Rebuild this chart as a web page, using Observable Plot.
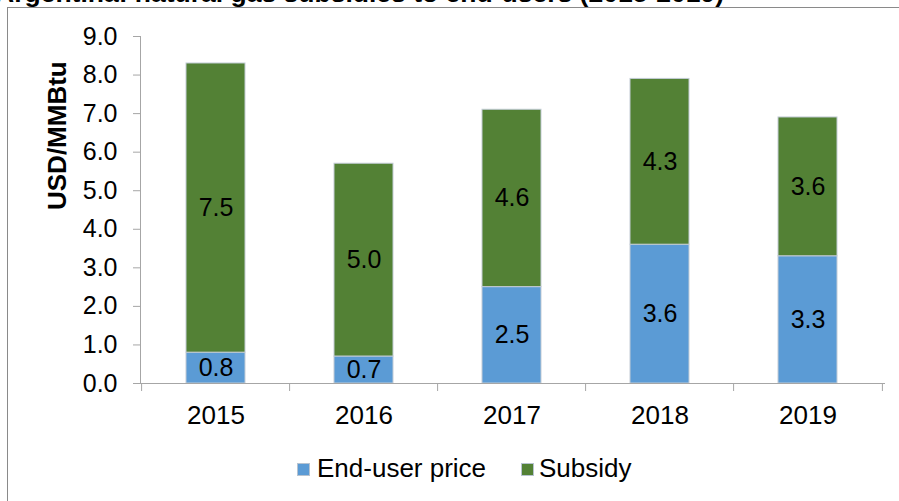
<!DOCTYPE html>
<html>
<head>
<meta charset="utf-8">
<script src="https://cdn.jsdelivr.net/npm/d3@7"></script>
<script src="https://cdn.jsdelivr.net/npm/@observablehq/plot@0.6"></script>
<style>
  html, body { margin: 0; padding: 0; background: #fff; }
  #wrap { position: relative; width: 899px; height: 501px; overflow: hidden; font-family: "Liberation Sans", Arial, sans-serif; }
  #frame { position: absolute; left: 7px; top: 7px; width: 900px; height: 500px; border-left: 1px solid #8a8a8a; border-top: 1px solid #8a8a8a; box-sizing: border-box; }
  #title { position: absolute; left: -5px; top: -20px; font-weight: bold; font-size: 26.5px; line-height: 26px; white-space: nowrap; color: #000; }
  #chart { position: absolute; left: 0; top: 0; }
  .lg-sw { position: absolute; width: 13px; height: 13px; box-sizing: border-box; }
  .lg-tx { position: absolute; font-size: 26px; line-height: 26px; color: #000; white-space: nowrap; }
</style>
</head>
<body>
<div id="wrap">
  <div id="frame"></div>
  <div id="title"></div>
  <div id="chart"></div>
  <div id="legend"></div>
</div>
<script>
const titleText = "Argentina: natural gas subsidies to end-users (2015-2019)";
const years = ["2015", "2016", "2017", "2018", "2019"];
const seriesNames = ["End-user price", "Subsidy"];
const endUserPrice = [0.8, 0.7, 2.5, 3.6, 3.3];
const subsidy = [7.5, 5.0, 4.6, 4.3, 3.6];
const seriesColors = ["#5b9bd5", "#538135"];
const yTicks = [0, 1, 2, 3, 4, 5, 6, 7, 8, 9];
const yLabel = "USD/MMBtu";

document.getElementById("title").textContent = titleText;

const W = 899, H = 501;
const mL = 140, mR = 15, mT = 36, mB = 118;
const step = (W - mL - mR) / years.length;

const rows = [];
years.forEach((y, i) => {
  const vals = [endUserPrice[i], subsidy[i]];
  let base = 0;
  vals.forEach((v, k) => {
    rows.push({year: y, series: seriesNames[k], value: v, mid: base + v / 2});
    base += v;
  });
});

const axisColor = "#a6a6a6";

const chart = Plot.plot({
  width: W, height: H,
  marginLeft: mL, marginRight: mR, marginTop: mT, marginBottom: mB,
  style: {fontFamily: "Liberation Sans, Arial, sans-serif", background: "transparent", overflow: "visible"},
  x: {domain: years, paddingInner: 0.6, paddingOuter: 0.3},
  y: {domain: [0, 9]},
  color: {domain: seriesNames, range: seriesColors},
  marks: [
    Plot.barY(rows, {x: "year", y: "value", fill: "series", stroke: "#c3ccd6", strokeWidth: 1}),
    Plot.text(rows, {x: "year", y: "mid", text: d => d.value.toFixed(1), fontSize: 25, fill: "#000"}),
    Plot.frame({anchor: "left", stroke: axisColor}),
    Plot.frame({anchor: "bottom", stroke: axisColor}),
    Plot.axisY({ticks: yTicks, tickFormat: d => d.toFixed(1), tickSize: 7, tickPadding: 16, fontSize: 25, stroke: axisColor, color: "#000", label: null}),
    Plot.axisX({tickSize: 0, tickPadding: 22, fontSize: 26, color: "#000", label: null}),
    Plot.axisX({tickSize: 8, tickFormat: () => "", dx: -step / 2, stroke: axisColor, label: null}),
    Plot.axisX({ticks: [years[years.length - 1]], tickSize: 8, tickFormat: () => "", dx: step / 2, stroke: axisColor, label: null}),
    Plot.text([yLabel], {frameAnchor: "left", dx: -83, rotate: -90, text: d => d, fontSize: 26, fontWeight: "bold", fill: "#000"})
  ]
});
document.getElementById("chart").appendChild(chart);

// legend
const legend = document.getElementById("legend");
const lgItems = [
  {name: seriesNames[0], color: seriesColors[0], sx: 297, tx: 317},
  {name: seriesNames[1], color: seriesColors[1], sx: 521, tx: 539}
];
lgItems.forEach(it => {
  const sw = document.createElement("div");
  sw.className = "lg-sw";
  sw.style.left = it.sx + "px";
  sw.style.top = "463px";
  sw.style.background = it.color;
  sw.style.border = "1px solid #b7c3d0";
  legend.appendChild(sw);
  const tx = document.createElement("div");
  tx.className = "lg-tx";
  tx.style.left = it.tx + "px";
  tx.style.top = "455px";
  tx.textContent = it.name;
  legend.appendChild(tx);
});
</script>
</body>
</html>
